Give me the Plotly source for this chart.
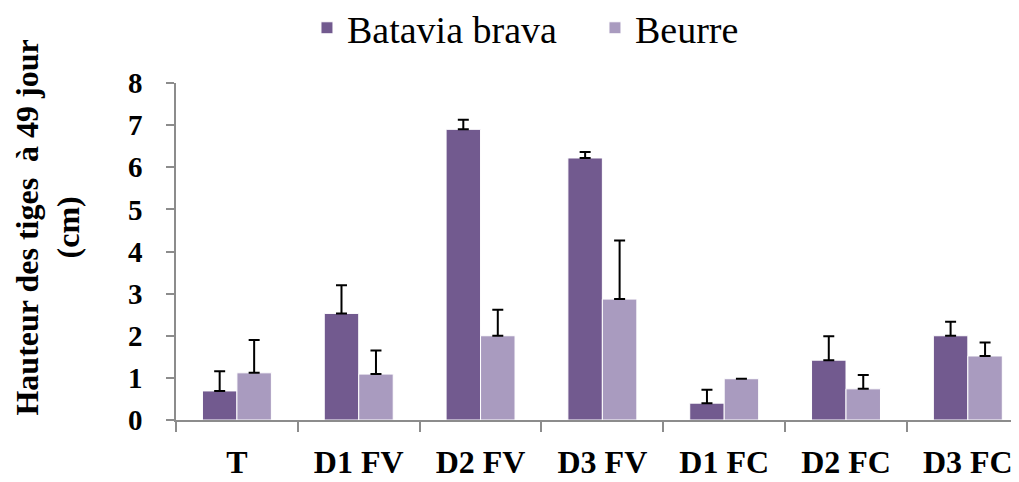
import plotly.graph_objects as go

categories = ["T", "D1 FV", "D2 FV", "D3 FV", "D1 FC", "D2 FC", "D3 FC"]
batavia = [0.69, 2.53, 6.90, 6.22, 0.40, 1.42, 2.00]
batavia_err = [0.47, 0.67, 0.23, 0.14, 0.32, 0.57, 0.33]
beurre = [1.12, 1.09, 2.00, 2.87, 0.98, 0.74, 1.52]
beurre_err = [0.78, 0.56, 0.62, 1.39, 0.0, 0.33, 0.32]
y_ticks = [0, 1, 2, 3, 4, 5, 6, 7, 8]

FONT = "Liberation Serif, Times New Roman, serif"

fig = go.Figure()
fig.add_trace(go.Bar(
    name="Batavia brava", x=categories, y=batavia,
    marker=dict(color="#725A8F", line=dict(color="white", width=1)),
    error_y=dict(type="data", symmetric=False, array=batavia_err,
                 arrayminus=[0] * len(batavia_err),
                 color="black", thickness=2, width=5.5),
))
fig.add_trace(go.Bar(
    name="Beurre", x=categories, y=beurre,
    marker=dict(color="#A99BBF", line=dict(color="white", width=1)),
    error_y=dict(type="data", symmetric=False, array=beurre_err,
                 arrayminus=[0] * len(beurre_err),
                 color="black", thickness=2, width=5.5),
))

fig.update_layout(
    width=1011, height=474,
    margin=dict(l=168, r=0, t=75, b=62, autoexpand=False),
    paper_bgcolor="white", plot_bgcolor="white",
    barmode="group", bargap=0.434, bargroupgap=0,
    font=dict(family=FONT, color="black"),
    showlegend=True,
    legend=dict(orientation="h", x=0.497, xanchor="center",
                y=1.163, yanchor="middle",
                font=dict(family=FONT, size=38, color="black"),
                itemwidth=30, entrywidth=243, entrywidthmode="pixels",
                tracegroupgap=0, bgcolor="rgba(0,0,0,0)"),
    xaxis=dict(
        range=[-0.5, 6.42], showgrid=False, zeroline=False,
        showline=True, linecolor="#8C8C8C", linewidth=1.5,
        ticks="outside", tickson="boundaries", ticklen=10,
        tickcolor="#8C8C8C", tickwidth=1.5,
        tickfont=dict(family=FONT, size=32, color="black", weight="bold"),
        ticklabelstandoff=13,
    ),
    yaxis=dict(
        range=[0, 8], tickvals=y_ticks, showgrid=False, zeroline=False,
        showline=True, linecolor="#8C8C8C", linewidth=1.5,
        ticks="outside", ticklen=8, tickcolor="#8C8C8C", tickwidth=1.5,
        tickfont=dict(family=FONT, size=29, color="black", weight="bold"),
        ticklabelstandoff=18,
    ),
    annotations=[dict(
        text="<b>Hauteur des tiges  à 49 jour<br>(cm)</b>",
        xref="paper", yref="paper", x=-0.1524, y=(412 - 220) / 337,
        xanchor="center", yanchor="middle", textangle=-90, showarrow=False,
        font=dict(family=FONT, size=32, color="black"),
    )],
)

fig.write_html("out.html")
